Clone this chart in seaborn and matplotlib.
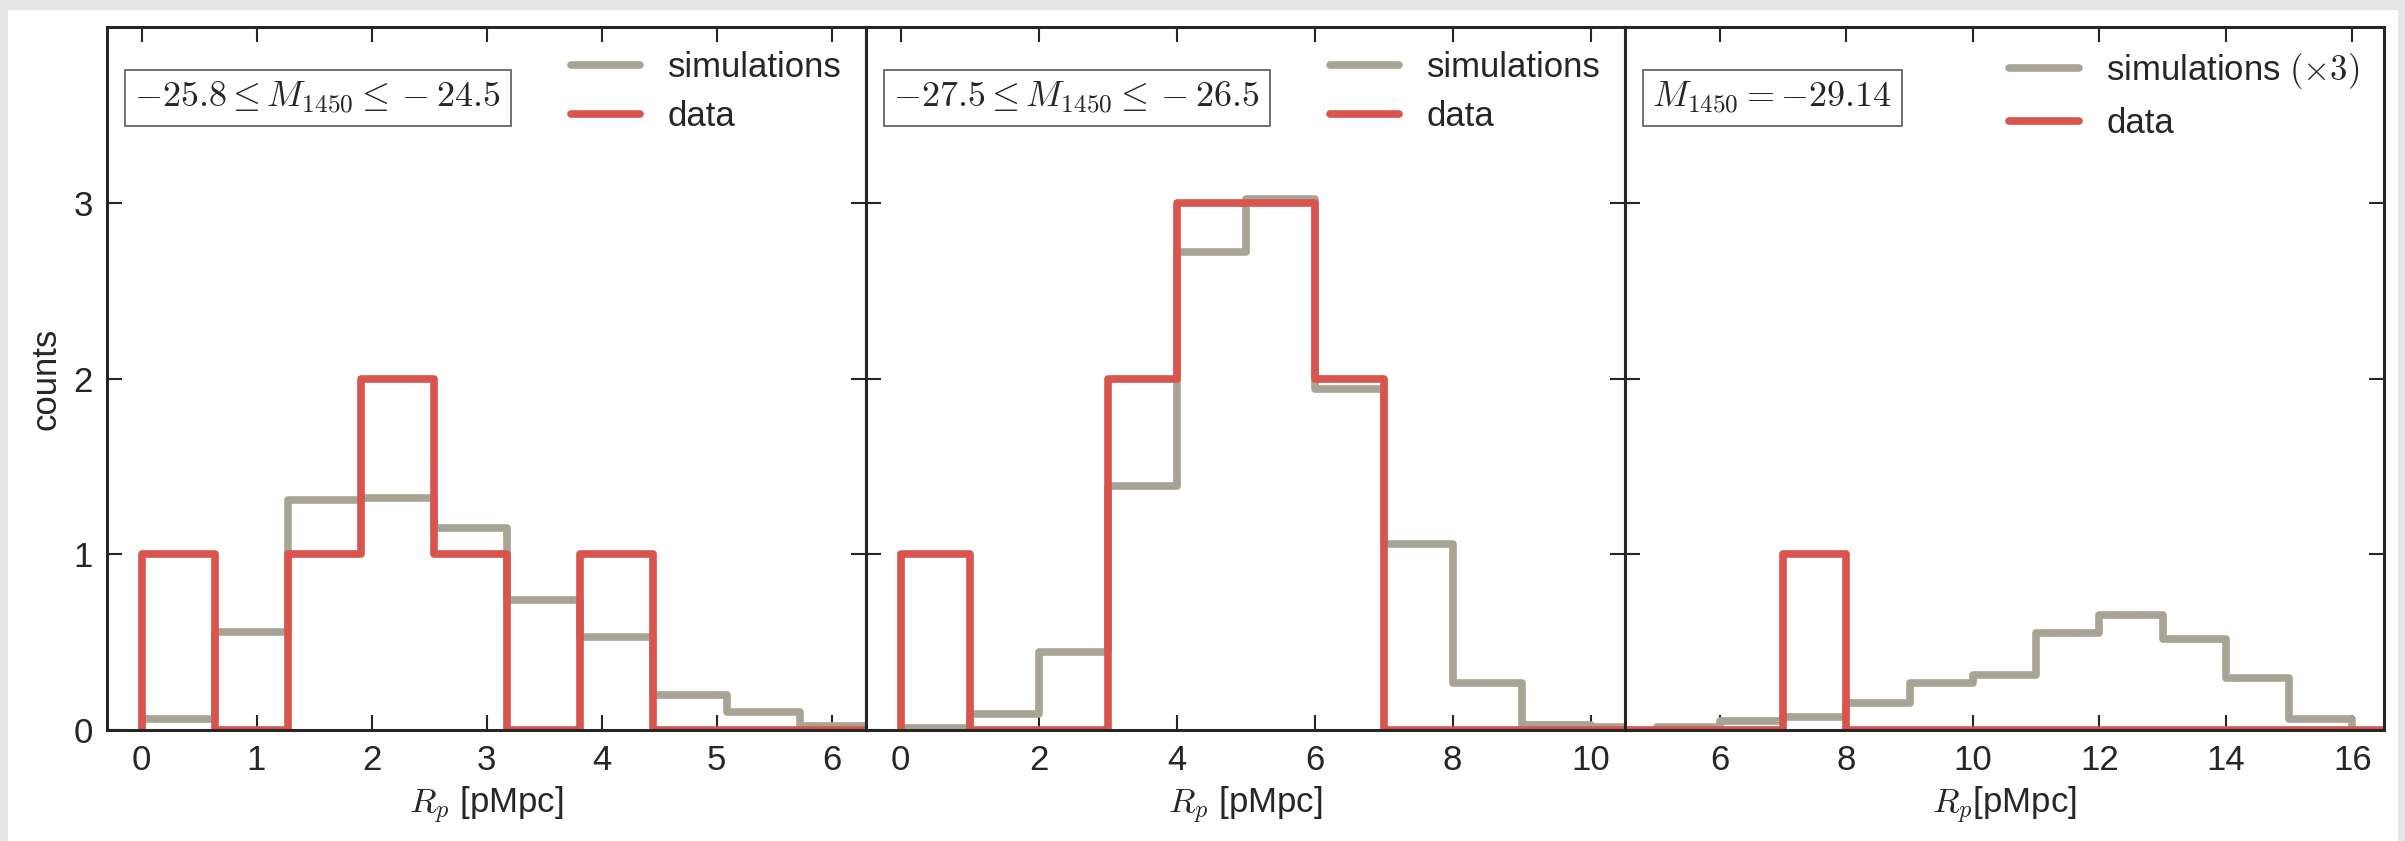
import numpy as np
import pandas as pd
import matplotlib
matplotlib.use("Agg")
import matplotlib.pyplot as plt
import seaborn as sns
from matplotlib.patches import Rectangle

# ---- data (counts per bin) ----
# panel 1: -25.8 <= M1450 <= -24.5
edges1 = [0.0, 0.636, 1.272, 1.908, 2.544, 3.18, 3.816, 4.452, 5.088, 5.724, 6.36]
sim1 = [0.06, 0.56, 1.31, 1.32, 1.15, 0.74, 0.53, 0.20, 0.10, 0.02]
data1 = [1, 0, 1, 2, 1, 0, 1, 0, 0, 0]

# panel 2: -27.5 <= M1450 <= -26.5
edges2 = [0, 1, 2, 3, 4, 5, 6, 7, 8, 9, 10, 11]
sim2 = [0.01, 0.09, 0.445, 1.39, 2.72, 3.02, 1.94, 1.06, 0.265, 0.03, 0.015]
data2 = [1, 0, 0, 2, 3, 3, 2, 0, 0, 0, 0]

# panel 3: M1450 = -29.14 (simulations x3)
edges3_sim = [5, 6, 7, 8, 9, 10, 11, 12, 13, 14, 15, 16]
sim3 = [0.015, 0.05, 0.075, 0.155, 0.27, 0.315, 0.55, 0.655, 0.515, 0.295, 0.065]
edges3_data = [4, 5, 6, 7, 8, 9, 10, 11, 12, 13, 14, 15, 16, 17]
data3 = [0, 0, 0, 1, 0, 0, 0, 0, 0, 0, 0, 0, 0]

labels_box = [r"$-25.8\leq M_{1450}\leq -24.5$",
              r"$-27.5\leq M_{1450}\leq -26.5$",
              r"$M_{1450}=-29.14$"]
sim_labels = ["simulations", "simulations", r"simulations $(\times 3)$"]
xlabels = [r"$R_p$ [pMpc]", r"$R_p$ [pMpc]", r"$R_p$[pMpc]"]
xlims = [(-0.3, 6.3), (-0.5, 10.5), (4.5, 16.5)]
xticks = [np.arange(0, 7, 1), np.arange(0, 11, 2), np.arange(6, 17, 2)]

grey, red = sns.xkcd_palette(["greyish", "pale red"])

sns.set_theme(style="ticks")
plt.rcParams['font.family'] = ['Liberation Sans', 'DejaVu Sans']
plt.rcParams['mathtext.fontset'] = 'cm'
plt.rcParams['axes.linewidth'] = 2.2
plt.rcParams['axes.edgecolor'] = '.15'

FS = 25


def step_hist(ax, edges, counts, color, label):
    edges = [float(e) for e in edges]
    mids = [(a + b) / 2 for a, b in zip(edges[:-1], edges[1:])]
    df = pd.DataFrame({"r": mids, "w": [float(c) for c in counts]})
    # zero-width bins at both ends so the outline drops to the baseline
    bins = [edges[0]] + edges + [edges[-1]]
    sns.histplot(data=df, x="r", weights="w", bins=bins, element="step", fill=False,
                 color=color, linewidth=5.5, label=label, ax=ax)


fig, axes = plt.subplots(1, 3, figsize=(24.05, 8.41), dpi=100, sharey=True)
fig.patch.set_facecolor('#e6e6e6')
fig.patches.append(Rectangle((8 / 2405, 0), 2390 / 2405, 1 - 10 / 841,
                             transform=fig.transFigure, fc='white', ec='none', zorder=-1))
fig.subplots_adjust(left=107 / 2405, right=2384 / 2405, top=1 - 27 / 841,
                    bottom=1 - 730 / 841, wspace=0)

panels = [(edges1, sim1, edges1, data1),
          (edges2, sim2, edges2, data2),
          (edges3_sim, sim3, edges3_data, data3)]

for i, ax in enumerate(axes):
    es, s, ed, d = panels[i]
    step_hist(ax, es, s, grey, sim_labels[i])
    step_hist(ax, ed, d, red, "data")
    ax.set_xlim(*xlims[i])
    ax.set_xticks(xticks[i])
    ax.set_ylim(0, 4)
    ax.set_yticks([0, 1, 2, 3])
    ax.set_xlabel(xlabels[i], fontsize=FS, labelpad=6)
    ax.set_ylabel("counts" if i == 0 else "", fontsize=FS, labelpad=8)
    ax.tick_params(direction='in', top=True, right=True, length=11, width=1.5,
                   labelsize=FS, pad=10, color='.15')
    for sp in ax.spines.values():
        sp.set_visible(True)
    ax.text(0.036, 0.925, labels_box[i], transform=ax.transAxes, ha='left', va='top',
            fontsize=26, bbox=dict(boxstyle='square,pad=0.27', fc='white', ec='0.35', lw=1.2))
    ax.legend(loc='upper right', frameon=False, fontsize=FS, handlelength=2.0,
              labelspacing=0.45, borderaxespad=0.3)

fig.savefig("out.png", dpi=100, facecolor=fig.get_facecolor())
